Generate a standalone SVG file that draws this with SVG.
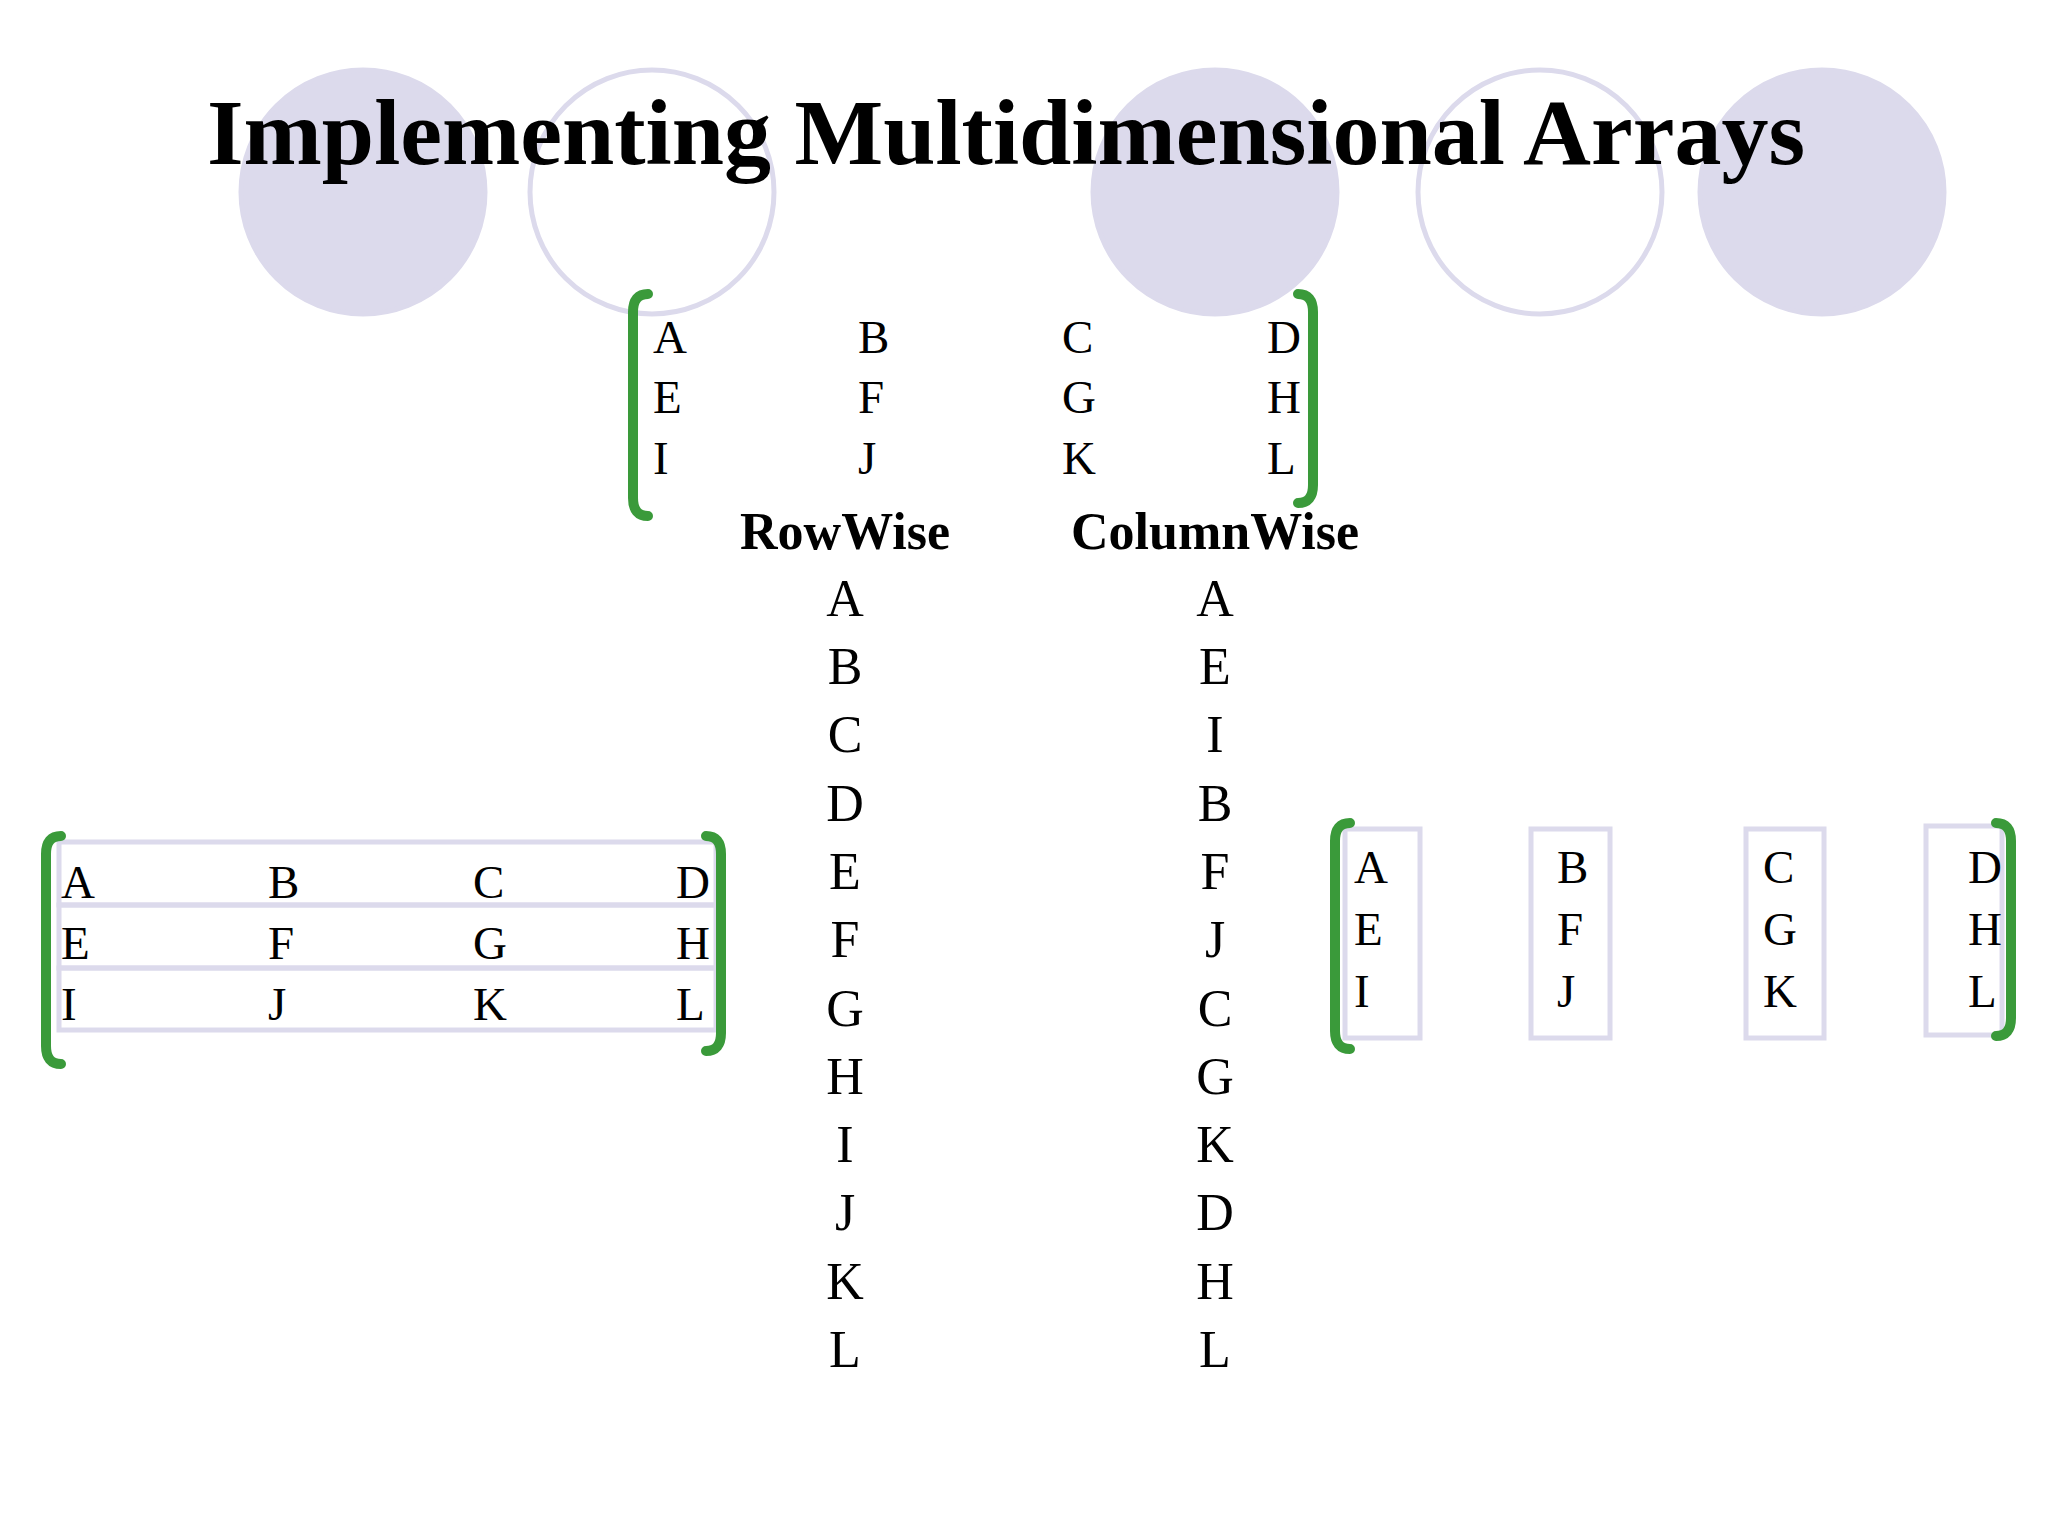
<svg xmlns="http://www.w3.org/2000/svg" width="2048" height="1536" viewBox="0 0 2048 1536">
<style>
.c{fill:#dcdaec;stroke:#dcdaec;stroke-width:5}
.o{fill:none;stroke:#dcdaec;stroke-width:5}
.t{font-family:"Liberation Serif",serif;font-size:47px;fill:#000}
.l{font-family:"Liberation Serif",serif;font-size:52px;fill:#000;text-anchor:middle}
.b{font-family:"Liberation Serif",serif;font-weight:bold;font-size:52px;fill:#000;text-anchor:middle}
.br{fill:none;stroke:#3a9a3a;stroke-width:10;stroke-linecap:round}
.r{fill:none;stroke:#dcdaec;stroke-width:5}
</style>
<rect width="2048" height="1536" fill="#fff"/>
<g id="bg">
<circle class="c" cx="363" cy="192" r="122"/>
<circle class="o" cx="652" cy="192" r="122"/>
<circle class="c" cx="1215" cy="192" r="122"/>
<circle class="o" cx="1540" cy="192" r="122"/>
<circle class="c" cx="1822" cy="192" r="122"/>
</g>
<text x="1006" y="164" font-family="Liberation Serif,serif" font-weight="bold" font-size="94" text-anchor="middle">Implementing Multidimensional Arrays</text>
<g id="matrix">
<path class="br" d="M648 294 Q633 294 633 312 V498 Q633 516 648 516"/>
<path class="br" d="M1298 294 Q1313 294 1313 312 V485 Q1313 503 1298 503"/>
<text class="t" x="653" y="353">A</text><text class="t" x="858" y="353">B</text><text class="t" x="1062" y="353">C</text><text class="t" x="1267" y="353">D</text>
<text class="t" x="653" y="413">E</text><text class="t" x="858" y="413">F</text><text class="t" x="1062" y="413">G</text><text class="t" x="1267" y="413">H</text>
<text class="t" x="653" y="474">I</text><text class="t" x="858" y="474">J</text><text class="t" x="1062" y="474">K</text><text class="t" x="1267" y="474">L</text>
</g>
<g id="rowwise">
<text class="b" x="845" y="549">RowWise</text>
<text class="l" x="845" y="616">A</text><text class="l" x="845" y="684">B</text><text class="l" x="845" y="752">C</text><text class="l" x="845" y="821">D</text><text class="l" x="845" y="889">E</text><text class="l" x="845" y="957">F</text><text class="l" x="845" y="1026">G</text><text class="l" x="845" y="1094">H</text><text class="l" x="845" y="1162">I</text><text class="l" x="845" y="1230">J</text><text class="l" x="845" y="1299">K</text><text class="l" x="845" y="1367">L</text>
</g>
<g id="colwise">
<text class="b" x="1215" y="549">ColumnWise</text>
<text class="l" x="1215" y="616">A</text><text class="l" x="1215" y="684">E</text><text class="l" x="1215" y="752">I</text><text class="l" x="1215" y="821">B</text><text class="l" x="1215" y="889">F</text><text class="l" x="1215" y="957">J</text><text class="l" x="1215" y="1026">C</text><text class="l" x="1215" y="1094">G</text><text class="l" x="1215" y="1162">K</text><text class="l" x="1215" y="1230">D</text><text class="l" x="1215" y="1299">H</text><text class="l" x="1215" y="1367">L</text>
</g>
<g id="rows">
<rect class="r" x="59" y="842" width="657" height="63"/>
<rect class="r" x="59" y="905" width="657" height="63"/>
<rect class="r" x="59" y="968" width="657" height="62"/>
<path class="br" d="M61 836 Q46 836 46 854 V1046 Q46 1064 61 1064"/>
<path class="br" d="M706 836 Q721 836 721 854 V1033 Q721 1051 706 1051"/>
<text class="t" x="61" y="898">A</text><text class="t" x="268" y="898">B</text><text class="t" x="473" y="898">C</text><text class="t" x="676" y="898">D</text>
<text class="t" x="61" y="959">E</text><text class="t" x="268" y="959">F</text><text class="t" x="473" y="959">G</text><text class="t" x="676" y="959">H</text>
<text class="t" x="61" y="1020">I</text><text class="t" x="268" y="1020">J</text><text class="t" x="473" y="1020">K</text><text class="t" x="676" y="1020">L</text>
</g>
<g id="cols">
<rect class="r" x="1345" y="829" width="75" height="209"/>
<rect class="r" x="1531" y="829" width="79" height="209"/>
<rect class="r" x="1746" y="829" width="78" height="209"/>
<rect class="r" x="1926" y="826" width="76" height="209"/>
<path class="br" d="M1350 823 Q1335 823 1335 841 V1031 Q1335 1049 1350 1049"/>
<path class="br" d="M1996 823 Q2011 823 2011 841 V1018 Q2011 1036 1996 1036"/>
<text class="t" x="1354" y="883">A</text><text class="t" x="1557" y="883">B</text><text class="t" x="1763" y="883">C</text><text class="t" x="1968" y="883">D</text>
<text class="t" x="1354" y="945">E</text><text class="t" x="1557" y="945">F</text><text class="t" x="1763" y="945">G</text><text class="t" x="1968" y="945">H</text>
<text class="t" x="1354" y="1007">I</text><text class="t" x="1557" y="1007">J</text><text class="t" x="1763" y="1007">K</text><text class="t" x="1968" y="1007">L</text>
</g>
</svg>
